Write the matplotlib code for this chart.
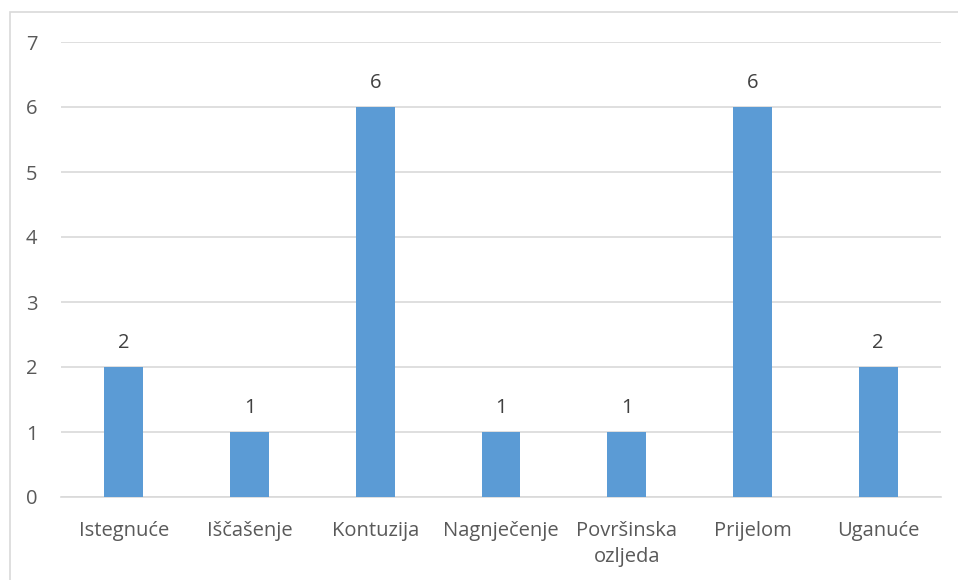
import matplotlib.pyplot as plt
from matplotlib.patches import Rectangle

categories = ["Istegnuće", "Iščašenje", "Kontuzija", "Nagnječenje",
              "Površinska\nozljeda", "Prijelom", "Uganuće"]
values = [2, 1, 6, 1, 1, 6, 2]
yticks = [0, 1, 2, 3, 4, 5, 6, 7]

plt.rcParams['font.family'] = ['Open Sans', 'DejaVu Sans']
fs = 14.5

fig = plt.figure(figsize=(9.58, 5.80), dpi=100)
ax = fig.add_axes([61 / 958, 1 - 497 / 580, 880 / 958, 455 / 580])

# chart area border (only top/left visible in the crop)
fig.patches.append(Rectangle((10 / 958, -0.1), 1.2, 1 - 12 / 580 + 0.1,
                             transform=fig.transFigure, fill=False,
                             edgecolor='#d9d9d9', linewidth=1.2))

x = range(len(categories))
bars = ax.bar(x, values, width=0.31, color='#5b9bd5', zorder=3)

for b, v in zip(bars, values):
    ax.annotate(str(v), (b.get_x() + b.get_width() / 2, v),
                xytext=(0, 10), textcoords='offset points',
                ha='center', va='bottom', fontsize=fs, color='#404040')

ax.set_xlim(-0.5, len(categories) - 0.5)
ax.set_ylim(0, 7)
ax.set_yticks(yticks)
ax.set_xticks(list(x))
ax.set_xticklabels(categories, linespacing=1.4)
ax.yaxis.grid(True, color='#d9d9d9', linewidth=1.2, zorder=0)
ax.tick_params(axis='both', length=0, labelsize=fs, labelcolor='#595959')
ax.tick_params(axis='y', pad=17)
ax.tick_params(axis='x', pad=17)
for s in ['top', 'right', 'left']:
    ax.spines[s].set_visible(False)
ax.spines['bottom'].set_color('#d9d9d9')
ax.spines['bottom'].set_linewidth(1.2)

fig.savefig("out.png", dpi=100)
